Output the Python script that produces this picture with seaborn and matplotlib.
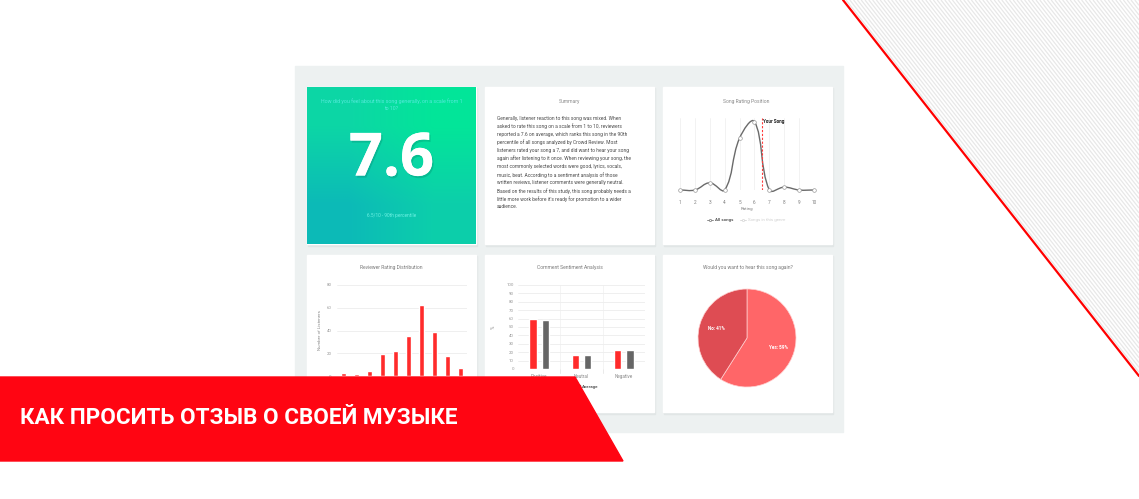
import numpy as np
import matplotlib
matplotlib.use("Agg")
import matplotlib.pyplot as plt
import seaborn as sns
import pandas as pd
from matplotlib.patches import Rectangle, Polygon, PathPatch
from matplotlib.path import Path
import matplotlib.patheffects as pe

# ---------------- data ----------------
score_text = "7.6"
score_question = "How did you feel about this song generally, on a scale from 1\nto 10?"
score_sub = "6.5/10 - 90th percentile"

summary_title = "Summary"
summary_lines = [
    "Generally, listener reaction to this song was mixed. When",
    "asked to rate this song on a scale from 1 to 10, reviewers",
    "reported a 7.6 on average, which ranks this song in the 90th",
    "percentile of all songs analyzed by Crowd Review. Most",
    "listeners rated your song a 7, and did want to hear your song",
    "again after listening to it once. When reviewing your song, the",
    "most commonly selected words were good, lyrics, vocals,",
    "music, beat. According to a sentiment analysis of those",
    "written reviews, listener comments were generally neutral.",
    "Based on the results of this study, this song probably needs a",
    "little more work before it's ready for promotion to a wider",
    "audience.",
]

position_title = "Song Rating Position"
position_ratings = [1, 2, 3, 4, 5, 6, 7, 8, 9, 10]
position_all_songs = [0, 0, 10, 0, 72, 95, 0, 4, 0, 0]
your_song_rating = 6.5

dist_title = "Reviewer Rating Distribution"
dist_ratings = [1, 2, 3, 4, 5, 6, 7, 8, 9, 10]
dist_counts = [3, 2, 4, 19, 22, 35, 62, 39, 18, 7]

sent_title = "Comment Sentiment Analysis"
sent_categories = ["Positive", "Neutral", "Negative"]
sent_your_song = [59, 17, 23]
sent_average = [58, 17, 23]

again_title = "Would you want to hear this song again?"
again_labels = ["Yes", "No"]
again_values = [59, 41]

banner_title = "КАК ПРОСИТЬ ОТЗЫВ О СВОЕЙ МУЗЫКЕ"

# ---------------- setup ----------------
W, H = 1139, 499
sns.set_theme(style="white")
plt.rcParams['font.family'] = ['Roboto', 'DejaVu Sans']

fig = plt.figure(figsize=(W / 100, H / 100), dpi=100)
fig.patch.set_facecolor('white')


def rect(x0, y0, x1, y1):
    return [x0 / W, 1 - y1 / H, (x1 - x0) / W, (y1 - y0) / H]


bg = fig.add_axes([0, 0, 1, 1], zorder=0)
bg.axis('off')

# hatched triangle top right
for c in np.arange(846, 1139, 3.8):
    bg.plot([c, 1139], [0, (1139 - c) * 376 / 296], color='#e8e8e8', lw=0.9,
            solid_capstyle='butt')
bg.plot([843, 1139], [0, 376], color='#ff0000', lw=1.6)

# dashboard panel
bg.add_patch(Rectangle((295, 66), 548, 366, color='#edf1f1', zorder=1))
cards = [(307, 87), (485, 87), (663, 87), (307, 255), (485, 255), (663, 255)]
for (cx, cy) in cards:
    bg.add_patch(Rectangle((cx + 0.5, cy + 1), 169, 158, color='#e1e6e6', zorder=1.5))
    bg.add_patch(Rectangle((cx, cy), 169, 157, color='white', zorder=2))

# teal gradient card
grad = np.array([[[0.05, 0.84, 0.65], [0.01, 0.90, 0.60]],
                 [[0.05, 0.73, 0.72], [0.05, 0.81, 0.67]]])
bg.imshow(grad, extent=(307, 476, 244, 87), origin='upper', interpolation='bilinear',
          aspect='auto', zorder=3)
bg.set_xlim(0, W)
bg.set_ylim(H, 0)

bg.text(391.5, 105, score_question, ha='center', va='center', fontsize=3.75,
        color='#55eadb', linespacing=1.5, zorder=4)
bg.text(391.5, 160, score_text, ha='center', va='center', fontsize=43,
        fontweight='bold', family=['Open Sans', 'DejaVu Sans'], color='white', zorder=4,
        path_effects=[pe.withSimplePatchShadow(offset=(1, -1.5), shadow_rgbFace='#004a40',
                                               alpha=0.18), pe.Normal()])
bg.text(391.5, 216, score_sub, ha='center', va='center', fontsize=3.4,
        color='#6ef2e4', zorder=4)

# summary card
bg.text(569.5, 101, summary_title, ha='center', va='center', fontsize=3.6,
        color='#8a8a8a', zorder=4)
for i, line in enumerate(summary_lines):
    bg.text(497, 118.3 + i * 8.06, line, ha='left', va='center', fontsize=3.5,
            color='#4a4a4a', zorder=4)

# titles
bg.text(746.5, 101, position_title, ha='center', va='center', fontsize=3.6,
        color='#8a8a8a', zorder=4)
bg.text(391.5, 267, dist_title, ha='center', va='center', fontsize=3.6,
        color='#7a7a7a', zorder=4)
bg.text(569.5, 267, sent_title, ha='center', va='center', fontsize=3.6,
        color='#7a7a7a', zorder=4)
bg.text(747.5, 268, again_title, ha='center', va='center', fontsize=3.6,
        color='#7a7a7a', zorder=4)

# legend of line chart
bg.plot([707, 713], [220, 220], color='#777', lw=0.6, zorder=4)
bg.plot([710], [220], 'o', ms=1.6, mfc='white', mec='#777', mew=0.5, zorder=5)
bg.text(715, 220, "All songs", ha='left', va='center', fontsize=3.2,
        fontweight='bold', color='#555', zorder=4)
bg.plot([740, 746], [220, 220], color='#d6d6d6', lw=0.6, zorder=4)
bg.plot([743], [220], 'o', ms=1.6, mfc='white', mec='#d6d6d6', mew=0.5, zorder=5)
bg.text(748, 220, "Songs in this genre", ha='left', va='center', fontsize=3.2,
        color='#d0d0d0', zorder=4)

# legend of sentiment chart
bg.add_patch(Rectangle((532, 385), 4, 4, color='#ff2b2b', zorder=4))
bg.text(538, 387, "Your Song", ha='left', va='center', fontsize=3.2,
        fontweight='bold', color='#555', zorder=4)
bg.add_patch(Rectangle((576, 385), 4, 4, color='#666666', zorder=4))
bg.text(582, 387, "Average", ha='left', va='center', fontsize=3.2,
        fontweight='bold', color='#555', zorder=4)

# ---------------- line chart ----------------
ax3 = fig.add_axes(rect(680, 118, 814, 190), zorder=1)
ax3.patch.set_alpha(0)
ax3.set_xlim(1, 10)
ax3.set_ylim(0, 100)
for x in position_ratings:
    ax3.axvline(x, color='#f0f0f0', lw=0.6, zorder=0)

pts = ax3.transData.transform(np.column_stack([position_ratings, position_all_songs]))
t = 0.4
n = len(pts)
cps_prev, cps_next = [], []
for i in range(n):
    prev = pts[max(i - 1, 0)]
    cur = pts[i]
    nxt = pts[min(i + 1, n - 1)]
    d01 = np.hypot(*(cur - prev))
    d12 = np.hypot(*(nxt - cur))
    tot = d01 + d12
    s01 = d01 / tot if tot else 0
    s12 = d12 / tot if tot else 0
    cps_prev.append(cur - t * s01 * (nxt - prev))
    cps_next.append(cur + t * s12 * (nxt - prev))
verts = [pts[0]]
codes = [Path.MOVETO]
for i in range(n - 1):
    verts += [cps_next[i], cps_prev[i + 1], pts[i + 1]]
    codes += [Path.CURVE4] * 3
verts = ax3.transData.inverted().transform(np.array(verts))
ax3.add_patch(PathPatch(Path(verts, codes), fill=False, edgecolor='#6a6a6a', lw=1.0,
                        zorder=2, clip_on=False))
sns.scatterplot(x=position_ratings, y=position_all_songs, ax=ax3, s=7, color='white',
                edgecolor='#9a9a9a', linewidth=0.5, zorder=3, clip_on=False)
ax3.axvline(your_song_rating, color='#ff3b3b', lw=0.8, ls=(0, (2, 1.5)), zorder=2)
ax3.text(your_song_rating + 0.1, 98, "Your Song", ha='left', va='top', fontsize=3.3,
         fontweight='bold', color='#222')
ax3.set_xticks(position_ratings)
ax3.set_xticklabels([str(r) for r in position_ratings])
ax3.set_yticks([])
ax3.tick_params(axis='x', length=0, pad=7.0, labelsize=3.4, labelcolor='#808080')
ax3.set_xlabel("Rating", fontsize=3.2, color='#808080', labelpad=1.5)
for s in ax3.spines.values():
    s.set_visible(False)

# ---------------- bar chart (distribution) ----------------
ax4 = fig.add_axes(rect(337, 285, 467, 376), zorder=1)
ax4.patch.set_alpha(0)
df4 = pd.DataFrame({'rating': dist_ratings, 'count': dist_counts})
sns.barplot(data=df4, x='rating', y='count', color='#ff2b2b', saturation=1,
            width=0.42, ax=ax4, zorder=2)
ax4.set_ylim(0, 80)
ax4.set_yticks([0, 20, 40, 60, 80])
ax4.grid(axis='y', color='#ededed', lw=0.6, zorder=0)
ax4.set_axisbelow(True)
ax4.tick_params(axis='both', length=0, labelsize=3.2, labelcolor='#999', pad=4)
ax4.set_ylabel("Number of Listeners", fontsize=3.2, color='#888', labelpad=3)
ax4.set_xlabel("")
for s in ax4.spines.values():
    s.set_visible(False)

# ---------------- grouped bar chart (sentiment) ----------------
ax5 = fig.add_axes(rect(518, 285, 645, 369), zorder=1)
ax5.patch.set_alpha(0)
df5 = pd.DataFrame({
    'category': sent_categories * 2,
    'series': ['Your Song'] * len(sent_categories) + ['Average'] * len(sent_categories),
    'value': sent_your_song + sent_average,
})
sns.barplot(data=df5, x='category', y='value', hue='series',
            palette={'Your Song': '#ff2b2b', 'Average': '#666666'}, saturation=1,
            width=0.59, gap=0.42, legend=False, ax=ax5, zorder=2)
ax5.set_ylim(0, 100)
ax5.set_yticks(range(0, 101, 10))
ax5.grid(axis='y', color='#ededed', lw=0.6, zorder=0)
ax5.set_axisbelow(True)
for xb in [0.5, 1.5]:
    ax5.axvline(xb, ymin=-0.05, ymax=0, color='#e6e6e6', lw=0.6, clip_on=False)
    ax5.axvline(xb, color='#f2f2f2', lw=0.6, zorder=0)
ax5.axhline(0, color='#dcdcdc', lw=0.6, zorder=1)
ax5.tick_params(axis='both', length=0, labelsize=3.2, labelcolor='#999', pad=3)
ax5.tick_params(axis='x', pad=3.5, labelsize=3.3, labelcolor='#888')
ax5.set_ylabel("%", fontsize=3.3, color='#888', rotation=90, labelpad=8)
ax5.set_xlabel("")
for s in ax5.spines.values():
    s.set_visible(False)

# ---------------- pie ----------------
ax6 = fig.add_axes(rect(698, 289, 796, 387), zorder=1)
wedges, _ = ax6.pie(again_values, colors=['#ff6668', '#de4c53'], startangle=90,
                    counterclock=False,
                    wedgeprops=dict(edgecolor='#ffd0d0', linewidth=0.5))
ax6.set_xlim(-1, 1)
ax6.set_ylim(-1, 1)
for w, lab, v in zip(wedges, again_labels, again_values):
    ang = np.deg2rad((w.theta1 + w.theta2) / 2)
    ax6.text(0.66 * np.cos(ang), 0.66 * np.sin(ang), f"{lab}: {v}%", ha='center',
             va='center', fontsize=3.3, fontweight='bold', color='white')

# ---------------- banner overlay ----------------
ov = fig.add_axes([0, 0, 1, 1], zorder=5)
ov.axis('off')
ov.patch.set_alpha(0)
ov.set_xlim(0, W)
ov.set_ylim(H, 0)
ov.add_patch(Polygon([(0, 377), (575, 377), (623, 461), (0, 461)], closed=True,
                     color='#ff0512'))
ov.text(20, 418, banner_title, ha='left', va='center', fontsize=16.2,
        fontweight='bold', color='white')

fig.savefig("out.png", dpi=100, facecolor='white')
